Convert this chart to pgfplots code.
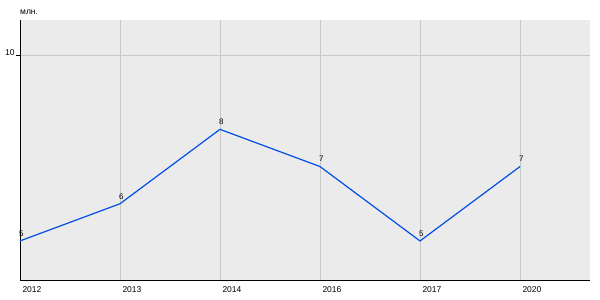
\documentclass[border=0pt]{standalone}
\usepackage{pgfplots}
\pgfplotsset{compat=1.18}
\usepackage{fontspec}
\setmainfont{Liberation Sans}
\definecolor{bgc}{RGB}{235,235,235}
\definecolor{gridc}{RGB}{200,200,200}
\definecolor{linec}{RGB}{0,76,230}
\begin{document}
\begin{tikzpicture}
\begin{axis}[
  at={(20bp,20bp)}, anchor=south west,
  width=570bp, height=260bp, scale only axis,
  xmin=0, xmax=5.7, ymin=3.95, ymax=10.94,
  axis background/.style={fill=bgc},
  axis x line*=bottom, axis y line*=left,
  axis line style={black, line width=0.8pt, -},
  xtick={0,1,2,3,4,5},
  xticklabels={2012,2013,2014,2016,2017,2020},
  x tick label style={anchor=north west, xshift=-1bp, yshift=1bp},
  xmajorgrids, ymajorgrids,
  grid style={gridc, line width=0.8pt},
  ytick={10},
  yticklabels={10},
  y tick label style={xshift=2bp, yshift=2bp},
  tick style={black, line width=0.6pt},
  major tick length=4bp,
  x tick style={draw=none},
  ytick pos=left, xtick pos=bottom,
  tick align=outside,
  font=\fontsize{8.5}{10}\selectfont,
  clip=false,
]
\addplot[color=linec, line width=1.2pt,
  nodes near coords,
  point meta=explicit symbolic,
  every node near coord/.style={anchor=south west, xshift=-2.5bp, yshift=3bp, black, font=\fontsize{8}{9}\selectfont, inner sep=1bp}]
  table[meta=label] {
x y label
0 5 5
1 6 6
2 8 8
3 7 7
4 5 5
5 7 7
};
\node[anchor=west, inner sep=0pt, font=\fontsize{8.5}{10}\selectfont] at (rel axis cs:0,1) [yshift=8bp, xshift=0bp] {млн.};
\end{axis}
\pgfresetboundingbox
\useasboundingbox (0,0) rectangle (600bp,300bp);
\end{tikzpicture}
\end{document}
